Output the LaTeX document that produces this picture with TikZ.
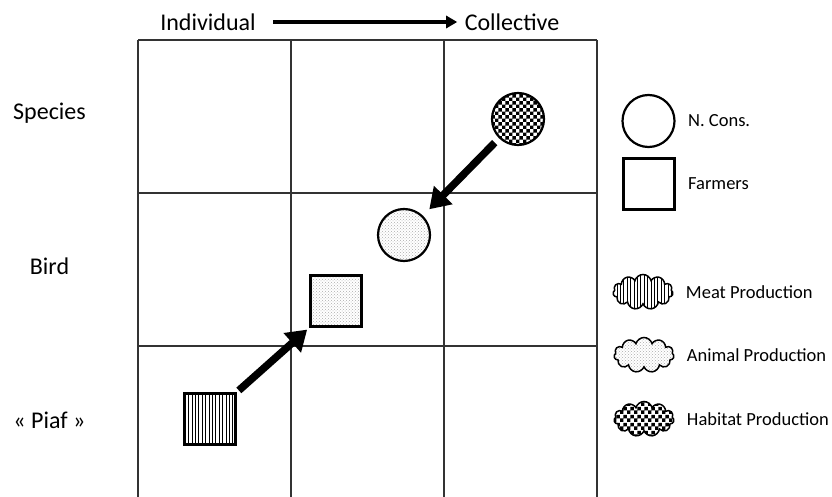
\documentclass[tikz,border=0pt]{standalone}
\usepackage{fontspec}
\setmainfont{Carlito}
\usetikzlibrary{positioning,shapes.symbols,patterns,arrows.meta}
\pgfdeclarepatternformonly{bigchecker}{\pgfpointorigin}{\pgfqpoint{7.4pt}{7.4pt}}{\pgfqpoint{7.4pt}{7.4pt}}{
	\pgfpathrectangle{\pgfpointorigin}{\pgfqpoint{3.7pt}{3.7pt}}
	\pgfpathrectangle{\pgfqpoint{3.7pt}{3.7pt}}{\pgfqpoint{3.7pt}{3.7pt}}
	\pgfusepath{fill}}
\pgfdeclarepatternformonly{bars}{\pgfpointorigin}{\pgfqpoint{3.4pt}{100pt}}{\pgfqpoint{3.4pt}{4pt}}{
	\pgfsetlinewidth{1.1pt}
	\pgfpathmoveto{\pgfqpoint{1.7pt}{0pt}}\pgfpathlineto{\pgfqpoint{1.7pt}{4.1pt}}
	\pgfusepath{stroke}}
\tikzset{
	disk/.style={circle, draw, line width=2.2pt, minimum size=52pt, inner sep=0pt},
	box/.style={rectangle, draw, line width=2.2pt, minimum size=51pt, inner sep=0pt},
	puff/.style={cloud, cloud puffs=11, aspect=1.9, draw, line width=1.5pt, minimum width=60pt, minimum height=35pt, inner sep=0pt},
	striped/.style={pattern=bars},
	stippled/.style={pattern=crosshatch dots, pattern color=gray!65},
	checked/.style={pattern=bigchecker},
	bigarrow/.style={line width=7.5pt, -{Triangle[length=20pt,width=25pt]}},
	label/.style={font=\fontsize{24}{26}\selectfont},
	legtext/.style={font=\fontsize{18.5}{20}\selectfont, right=9pt of #1}
}
\begin{document}
\begin{tikzpicture}[x=1pt, y=-1pt]
	\useasboundingbox (0,0) rectangle (832,497);
	% grid
	\foreach \x in {138,291,444,597}
		\draw[line width=1.3pt, black!80] (\x,40) -- (\x,497);
	\foreach \y in {40,193,346}
		\draw[line width=1.3pt, black!80] (138,\y) -- (597,\y);
	% axis labels
	\node[label] (indiv) at (208,22) {Individual};
	\node[label] (coll) at (512,22) {Collective};
	\draw[line width=4pt, -{Triangle[length=11pt,width=12pt]}, shorten <=14pt, shorten >=4pt] (indiv) -- (coll);
	\node[label] (species) at (49.5,113) {Species};
	\node[label] (bird) at (49.5,266) {Bird};
	\node[label] (piaf) at (49.5,420) {« Piaf »};
	% groups in the grid
	\node[disk, checked] (habCirc) at (518,119) {};
	\node[disk, stippled] (animCirc) at (404,235) {};
	\node[box, stippled] (animBox) at (336,301) {};
	\node[box, striped] (meatBox) at (210,419) {};
	\draw[bigarrow, shorten <=6pt, shorten >=9pt] (habCirc) -- (animCirc);
	\draw[bigarrow, shorten <=3pt, shorten >=3pt] (meatBox.north east) -- (animBox.south west);
	% legend
	\node[disk] (legCirc) at (648.5,121) {};
	\node[legtext=legCirc] {N. Cons.};
	\node[box] (legBox) at (649,184) {};
	\node[legtext=legBox] {Farmers};
	\node[puff, striped] (legMeat) at (643,292) {};
	\node[legtext=legMeat] {Meat Production};
	\node[puff, stippled] (legAnim) at (644,355) {};
	\node[legtext=legAnim] {Animal Production};
	\node[puff, checked] (legHab) at (644,419) {};
	\node[legtext=legHab] {Habitat Production};
\end{tikzpicture}
\end{document}
